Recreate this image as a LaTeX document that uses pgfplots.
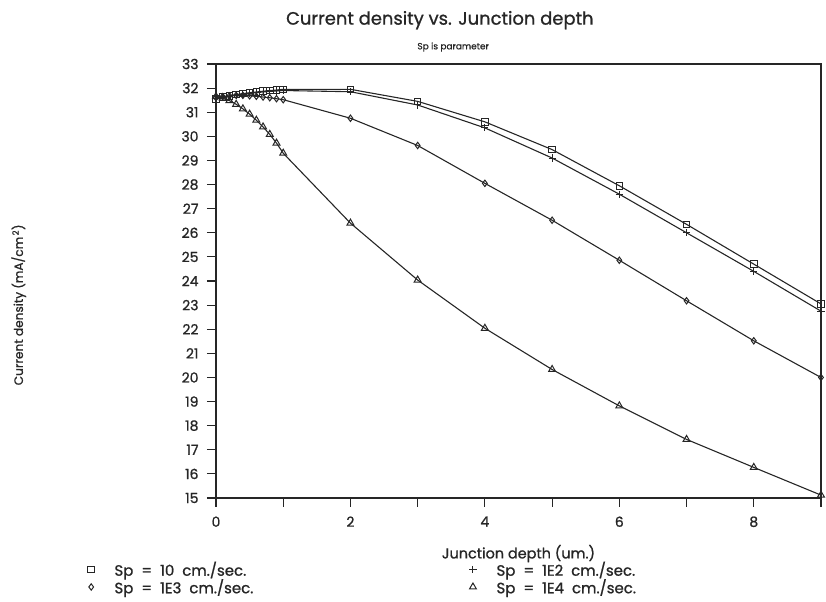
\documentclass[border=0pt]{standalone}
\usepackage{pgfplots}
\pgfplotsset{compat=1.18}
\usepackage{fontspec}
\setmainfont{Poppins}[FakeBold=1.0]
\newfontfamily\legfont{Poppins}[FakeBold=1.0, WordSpace=2.0]

% Sp = 10 cm/sec
\pgfplotstableread{
x y
0.0 31.55
0.1 31.62
0.2 31.68
0.3 31.73
0.4 31.77
0.5 31.81
0.6 31.84
0.7 31.87
0.8 31.90
0.9 31.92
1.0 31.95
2 31.95
3 31.45
4 30.60
5 29.45
6 27.95
7 26.35
8 24.70
9 23.05
}\spten
% Sp = 1E2 cm/sec
\pgfplotstableread{
x y
0.0 31.55
0.1 31.60
0.2 31.66
0.3 31.71
0.4 31.75
0.5 31.78
0.6 31.81
0.7 31.84
0.8 31.86
0.9 31.88
1.0 31.90
2 31.85
3 31.30
4 30.35
5 29.10
6 27.60
7 26.00
8 24.40
9 22.75
}\sphundred
% Sp = 1E3 cm/sec
\pgfplotstableread{
x y
0.0 31.60
0.1 31.65
0.2 31.68
0.3 31.70
0.4 31.70
0.5 31.68
0.6 31.66
0.7 31.63
0.8 31.60
0.9 31.56
1.0 31.52
2 30.75
3 29.62
4 28.05
5 26.52
6 24.86
7 23.18
8 21.52
9 20.00
}\spthousand
% Sp = 1E4 cm/sec
\pgfplotstableread{
x y
0.0 31.65
0.1 31.58
0.2 31.48
0.3 31.33
0.4 31.14
0.5 30.92
0.6 30.67
0.7 30.39
0.8 30.08
0.9 29.72
1.0 29.30
2 26.40
3 24.04
4 22.04
5 20.33
6 18.82
7 17.43
8 16.27
9 15.12
}\sptenthousand

\begin{document}
\begin{tikzpicture}
\useasboundingbox (0bp,0bp) rectangle (826bp,602bp);
\begin{axis}[
  at={(216bp,104bp)}, anchor=south west,
  scale only axis, width=605bp, height=434bp,
  xmin=0, xmax=9, ymin=15, ymax=33,
  xtick={0,...,9}, xticklabels={0,,2,,4,,6,,8,},
  ytick={15,...,33},
  tick align=outside, tick pos=left,
  major tick length=9bp,
  /pgf/number format/assume math mode=true,
  axis line style={line width=1.4bp, black!85},
  tick style={line width=1.2bp, black!85},
  ticklabel style={font=\fontsize{14}{16}\selectfont, text=black!85},
  xticklabel style={yshift=-6bp},
  yticklabel style={xshift=-5bp},
  xlabel={Junction depth (um.)},
  xlabel style={at={(axis description cs:0.5,-0.128)}, anchor=center,
    font=\fontsize{14.5}{16}\selectfont, text=black!85},
  ylabel={Current density (mA/cm\textsuperscript{\,2})},
  ylabel style={at={(axis description cs:-0.326,0.445)}, anchor=center,
    font=\fontsize{12.2}{14}\selectfont, text=black!85},
  legend columns=2,
  legend cell align=left,
  legend style={at={(axis description cs:-0.217,-0.137)}, anchor=north west,
    draw=none, fill=none, font=\legfont\fontsize{15}{15}\selectfont, text=black!85,
    row sep=-2bp,
    /tikz/every odd column/.append style={column sep=18bp},
    /tikz/every even column/.append style={column sep=214bp}},
  legend image code/.code={\draw[#1] plot coordinates {(0.2cm,0cm)};},
  every axis plot/.append style={line width=1.1bp, black!85,
    mark options={solid, line width=1bp}},
  clip=false,
]
\addplot[mark=square, mark size=3.3bp] table {\spten};
\addlegendentry{Sp = 10 cm./sec.}
\addplot[mark=+, mark size=3.6bp] table {\sphundred};
\addlegendentry{Sp = 1E2 cm./sec.}
\addplot[mark=diamond, mark size=3.2bp] table {\spthousand};
\addlegendentry{Sp = 1E3 cm./sec.}
\addplot[mark=triangle, mark size=4.0bp] table {\sptenthousand};
\addlegendentry{Sp = 1E4 cm./sec.}

\node[font=\fontsize{18}{21}\selectfont, text=black!85]
  at (axis description cs:0.370,1.101) {Current density vs. Junction depth};
\node[font=\fontsize{9}{10}\selectfont, text=black!85]
  at (axis description cs:0.392,1.039) {Sp is parameter};
\end{axis}
\end{tikzpicture}
\end{document}
